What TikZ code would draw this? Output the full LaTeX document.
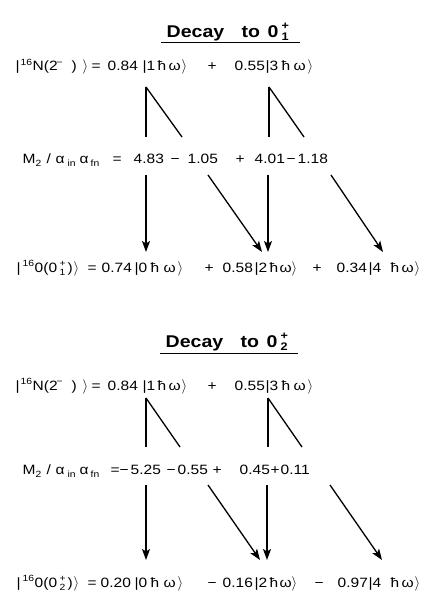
\documentclass[tikz,border=0pt]{standalone}
\usepackage{fontspec}
\setmainfont[FakeStretch=1.15]{Liberation Sans}
\newfontfamily\ttlfont[FakeStretch=1.15]{Liberation Sans}
\usetikzlibrary{arrows.meta}
\newcommand\pc[2]{\rlap{\hspace*{#1pt}#2}}
\newcommand\sm[1]{{\fontsize{9}{10}\selectfont #1}}
\newcommand\up[1]{\raisebox{5.5pt}{\sm{#1}}}
\newcommand\dn[1]{\raisebox{-3pt}{\sm{#1}}}
\newcommand\ud[2]{\rlap{\up{#1}}\dn{#2}}
\newcommand\tup[1]{\raisebox{8pt}{\fontsize{11}{12}\selectfont #1}}
\newcommand\tdn[1]{\raisebox{-3pt}{\fontsize{11}{12}\selectfont #1}}
\newcommand\kt{$\rangle$}
\tikzset{
  eq/.style={anchor=base west, inner sep=0pt, font=\fontsize{13.5}{15}\selectfont},
  ttl/.style={anchor=base west, inner sep=0pt, font=\ttlfont\bfseries\fontsize{17}{19}\selectfont},
  ln/.style={line width=1.3pt},
  arr/.style={line width=1.3pt, -{Stealth[length=11pt,width=8pt,inset=2.5pt]}},
}
\begin{document}
\begin{tikzpicture}[x=1pt,y=-1pt]
\useasboundingbox (0,0) rectangle (440,593);
% ---------- Section 1 ----------
\node[ttl] (t1) at (0,38) {\pc{166}{Decay}\pc{241}{to}\pc{267}{0}\pc{281}{\rlap{\tup{+}}\tdn{1}}};
\coordinate (u1a) at (161,43); \coordinate (u1b) at (300,43);
\draw[line width=1pt] (u1a) -- (u1b);
\node[eq] (n1) at (0,71) {\pc{15}{|}\pc{20}{\up{16}}\pc{32}{N(2}\pc{56}{\up{−}}\pc{71}{)}\pc{82}{\kt}\pc{91}{=}\pc{107}{0.84}\pc{142}{|1}\pc{157}{ħ}\pc{168}{ω}\pc{181}{\kt}\pc{207}{+}\pc{234}{0.55}\pc{265}{|3}\pc{281}{ħ}\pc{293}{ω}\pc{307}{\kt}};
\coordinate (a1) at (146,87); \coordinate (b1) at (146,137); \coordinate (c1) at (182,137);
\coordinate (a2) at (269,87); \coordinate (b2) at (269,137); \coordinate (c2) at (304,137);
\draw[ln] (a1) -- (b1); \draw[ln] (a1) -- (c1);
\draw[ln] (a2) -- (b2); \draw[ln] (a2) -- (c2);
\node[eq] (m1) at (0,164) {\pc{22}{M}\pc{35}{\dn{2}}\pc{46}{/}\pc{55}{α}\pc{67}{\dn{in}}\pc{79}{α}\pc{90}{\dn{fn}}\pc{112}{=}\pc{133}{4.83}\pc{170}{−}\pc{187}{1.05}\pc{235}{+}\pc{254}{4.01}\pc{286}{−}\pc{297}{1.18}};
\coordinate (p1) at (146,175); \coordinate (q1) at (146,252);
\coordinate (p2) at (208,175); \coordinate (q2) at (262,252);
\coordinate (p3) at (268,175); \coordinate (q3) at (268,252);
\coordinate (p4) at (331,175); \coordinate (q4) at (383,252);
\draw[arr] (p1) -- (q1); \draw[arr] (p2) -- (q2);
\draw[arr] (p3) -- (q3); \draw[arr] (p4) -- (q4);
\node[eq] (o1) at (0,272) {\pc{16}{|}\pc{22}{\up{16}}\pc{34}{0(0}\pc{59}{\ud{+}{1}}\pc{67}{)}\pc{73}{\kt}\pc{87}{=}\pc{101}{0.74}\pc{134}{|0}\pc{150}{ħ}\pc{163}{ω}\pc{177}{\kt}\pc{204}{+}\pc{222}{0.58}\pc{254}{|2}\pc{269}{ħ}\pc{279}{ω}\pc{291}{\kt}\pc{312}{+}\pc{336}{0.34}\pc{368}{|4}\pc{390}{ħ}\pc{401}{ω}\pc{414}{\kt}};
% ---------- Section 2 ----------
\node[ttl] (t2) at (0,347) {\pc{165}{Decay}\pc{240}{to}\pc{266}{0}\pc{280}{\rlap{\tup{+}}\tdn{2}}};
\coordinate (u2a) at (160,353); \coordinate (u2b) at (298,353);
\draw[line width=1pt] (u2a) -- (u2b);
\node[eq] (n2) at (0,390) {\pc{15}{|}\pc{20}{\up{16}}\pc{32}{N(2}\pc{56}{\up{−}}\pc{71}{)}\pc{82}{\kt}\pc{91}{=}\pc{107}{0.84}\pc{142}{|1}\pc{157}{ħ}\pc{168}{ω}\pc{181}{\kt}\pc{207}{+}\pc{234}{0.55}\pc{265}{|3}\pc{281}{ħ}\pc{293}{ω}\pc{307}{\kt}};
\coordinate (a3) at (146,398); \coordinate (b3) at (146,447); \coordinate (c3) at (180,447);
\coordinate (a4) at (268,398); \coordinate (b4) at (268,447); \coordinate (c4) at (302,447);
\draw[ln] (a3) -- (b3); \draw[ln] (a3) -- (c3);
\draw[ln] (a4) -- (b4); \draw[ln] (a4) -- (c4);
\node[eq] (m2) at (0,474) {\pc{22}{M}\pc{35}{\dn{2}}\pc{46}{/}\pc{55}{α}\pc{67}{\dn{in}}\pc{79}{α}\pc{90}{\dn{fn}}\pc{110}{=}\pc{119}{−}\pc{130}{5.25}\pc{166}{−}\pc{177}{0.55}\pc{212}{+}\pc{239}{0.45}\pc{270}{+}\pc{280}{0.11}};
\coordinate (p5) at (146,485); \coordinate (q5) at (146,560);
\coordinate (p6) at (208,485); \coordinate (q6) at (260,560);
\coordinate (p7) at (267,485); \coordinate (q7) at (267,560);
\coordinate (p8) at (330,485); \coordinate (q8) at (382,560);
\draw[arr] (p5) -- (q5); \draw[arr] (p6) -- (q6);
\draw[arr] (p7) -- (q7); \draw[arr] (p8) -- (q8);
\node[eq] (o2) at (0,587) {\pc{16}{|}\pc{22}{\up{16}}\pc{34}{0(0}\pc{59}{\ud{+}{2}}\pc{67}{)}\pc{73}{\kt}\pc{87}{=}\pc{100}{0.20}\pc{134}{|0}\pc{150}{ħ}\pc{163}{ω}\pc{177}{\kt}\pc{207}{−}\pc{222}{0.16}\pc{254}{|2}\pc{269}{ħ}\pc{279}{ω}\pc{291}{\kt}\pc{314}{−}\pc{337}{0.97}\pc{368}{|4}\pc{390}{ħ}\pc{401}{ω}\pc{414}{\kt}};
\end{tikzpicture}
\end{document}
